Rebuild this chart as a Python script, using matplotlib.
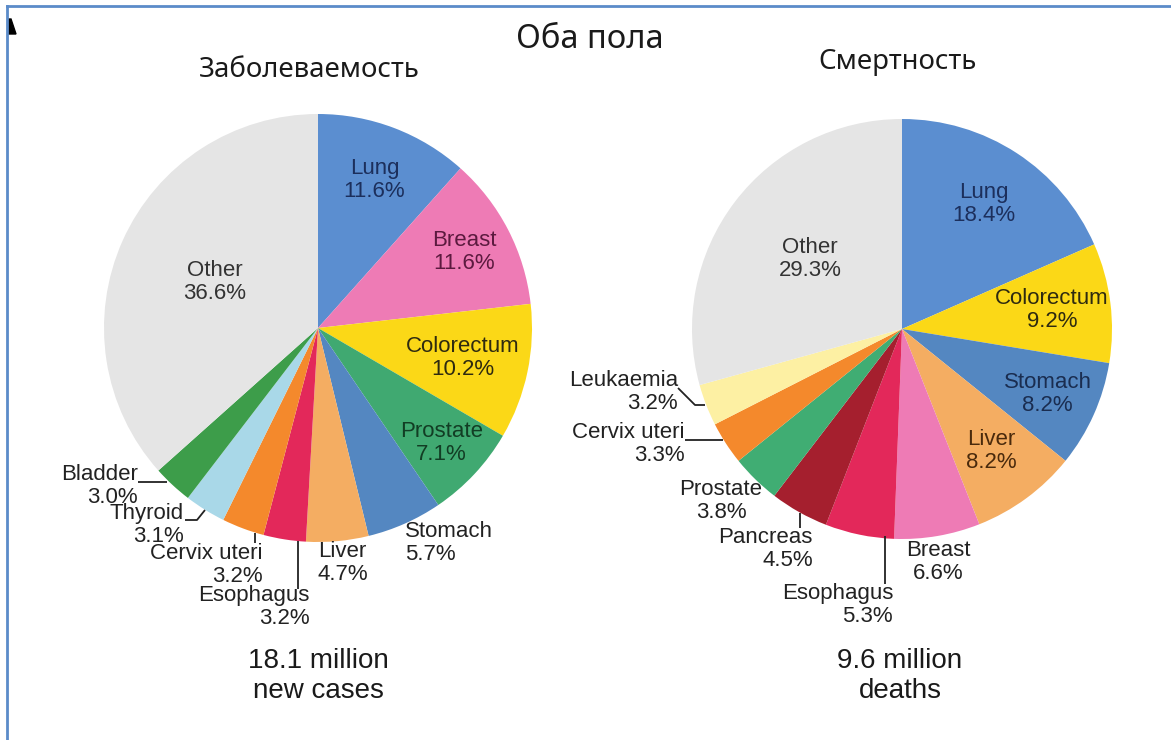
import numpy as np
import matplotlib.pyplot as plt
from matplotlib.patches import Polygon

# Данные: заболеваемость (оба пола)
inc_labels = ['Lung', 'Breast', 'Colorectum', 'Prostate', 'Stomach', 'Liver',
              'Esophagus', 'Cervix uteri', 'Thyroid', 'Bladder', 'Other']
inc_values = [11.6, 11.6, 10.2, 7.1, 5.7, 4.7, 3.2, 3.2, 3.1, 3.0, 36.6]
inc_colors = ['#5b8ed0', '#ee7bb5', '#fbd817', '#40a971', '#5487c1', '#f4ad62',
              '#e3285a', '#f4892c', '#a9d8e8', '#3d9d4a', '#e5e5e5']

# Данные: смертность (оба пола)
mort_labels = ['Lung', 'Colorectum', 'Stomach', 'Liver', 'Breast', 'Esophagus',
               'Pancreas', 'Prostate', 'Cervix uteri', 'Leukaemia', 'Other']
mort_values = [18.4, 9.2, 8.2, 8.2, 6.6, 5.3, 4.5, 3.8, 3.3, 3.2, 29.3]
mort_colors = ['#5b8ed0', '#fbd817', '#5487c1', '#f4ad62', '#ee7bb5', '#e3285a',
               '#a51f2e', '#40ad73', '#f4892c', '#fdf0a3', '#e5e5e5']

W, H = 1171, 740


def Y(y):
    # пиксели сверху -> координаты осей
    return H - y


fig = plt.figure(figsize=(W / 100, H / 100), dpi=100)
ax = fig.add_axes([0, 0, 1, 1])

LBL = dict(family=['Liberation Sans', 'DejaVu Sans'], fontsize=16, linespacing=1.12)

# надписи внутри секторов: (индекс, доля радиуса, цвет текста)
inc_inside = [(0, 0.74, '#1c2f5c'), (1, 0.77, '#5c1a3f'), (2, 0.69, '#2e2a10'),
              (3, 0.79, '#123d24'), (10, 0.53, '#333333')]
mort_inside = [(0, 0.71, '#1c2f5c'), (1, 0.72, '#2e2a10'), (2, 0.76, '#1a2d50'),
               (3, 0.72, '#4a2a0c'), (10, 0.55, '#333333')]

# внешние подписи: (индекс, x, y, выравнивание)
inc_outside = [(4, 405, 543, 'left'), (5, 318, 563, 'left'), (6, 310, 607, 'right'),
               (7, 263, 565, 'right'), (8, 184, 525, 'right'), (9, 138, 486, 'right')]
mort_outside = [(4, 938, 562, 'center'), (5, 893, 605, 'right'), (6, 813, 549, 'right'),
                (7, 721, 501, 'center'), (8, 685, 444, 'right'), (9, 678, 392, 'right')]

inc_leaders = [[(298, 541), (298, 589)], [(255, 533), (255, 543)],
               [(185, 520), (197, 520), (205, 510)], [(138, 482), (167, 482)]]
mort_leaders = [[(885, 536), (885, 584)], [(800, 513), (800, 528)],
                [(685, 440), (723, 440)], [(678, 388), (695, 405), (705, 405)]]


def draw_pie(values, labels, colors, cx, cy, r, inside, outside, leaders):
    wedges, _ = ax.pie(values, colors=colors, startangle=90, counterclock=False,
                       center=(cx, Y(cy)), radius=r, frame=True,
                       wedgeprops=dict(linewidth=0))
    for i, frac, col in inside:
        w = wedges[i]
        a = np.deg2rad((w.theta1 + w.theta2) / 2)
        ax.text(cx + frac * r * np.cos(a), Y(cy) + frac * r * np.sin(a),
                f'{labels[i]}\n{values[i]:.1f}%', ha='center', va='center',
                color=col, **LBL)
    for i, x, y, ha in outside:
        ax.text(x, Y(y), f'{labels[i]}\n{values[i]:.1f}%', ha=ha, va='center',
                multialignment=ha, color='#222222', **LBL)
    for pts in leaders:
        xs = [p[0] for p in pts]
        ys = [Y(p[1]) for p in pts]
        ax.plot(xs, ys, color='#222222', lw=1.3, solid_capstyle='butt')


draw_pie(inc_values, inc_labels, inc_colors, 318, 328, 214,
         inc_inside, inc_outside, inc_leaders)
draw_pie(mort_values, mort_labels, mort_colors, 902, 329, 210,
         mort_inside, mort_outside, mort_leaders)

# Заголовки
TTL = ['Noto Sans', 'DejaVu Sans']
ax.text(590, Y(40), 'Оба пола', ha='center', va='center', fontsize=23.5,
        family=TTL, color='#1a1a1a')
ax.text(309, Y(70), 'Заболеваемость', ha='center', va='center', fontsize=19.8,
        family=TTL, color='#1a1a1a')
ax.text(898, Y(62), 'Смертность', ha='center', va='center', fontsize=19.8,
        family=TTL, color='#1a1a1a')

# Итоги под диаграммами
BIG = dict(family=['Liberation Sans', 'DejaVu Sans'], fontsize=20, linespacing=1.22,
           color='#1a1a1a', ha='center', va='center')
ax.text(318, Y(676), '18.1 million\nnew cases', **BIG)
ax.text(900, Y(676), '9.6 million\ndeaths', **BIG)

# рамка скриншота и обрезанный символ в углу
ax.plot([7, 7], [Y(6), Y(740)], color='#5b8bc9', lw=2)
ax.plot([7, 1171], [Y(6), Y(6)], color='#5b8bc9', lw=2)
ax.add_patch(Polygon([(8, Y(19)), (11, Y(19)), (16, Y(34)), (8, Y(34))],
                     closed=True, color='black'))

ax.set_xlim(0, W)
ax.set_ylim(0, H)
ax.set_aspect('auto')
ax.axis('off')

fig.savefig('out.png', dpi=100, facecolor='white')
